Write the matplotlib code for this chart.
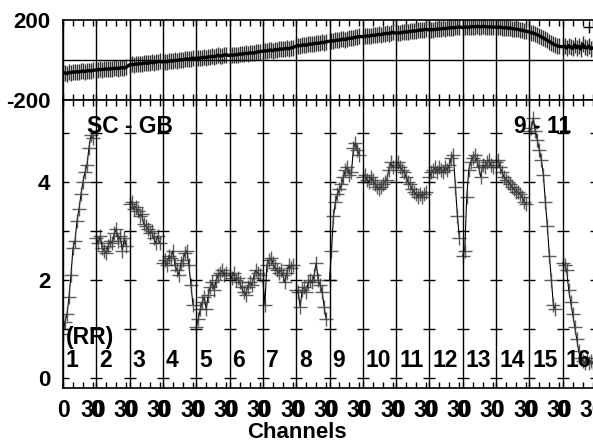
import numpy as np
import matplotlib
matplotlib.use("Agg")
import matplotlib.pyplot as plt

plt.rcParams['font.family'] = ['Liberation Sans', 'DejaVu Sans']
plt.rcParams['font.weight'] = 'bold'
plt.rcParams['axes.unicode_minus'] = False

# channels sampled every 2nd channel, 16 spectral windows
channels = [0, 2, 4, 6, 8, 10, 12, 14, 16, 18, 20, 22, 24, 26, 28, 30]
nan = np.nan

# amplitude per spectral window
amp_1 = [0.9, 1.15, 1.3, 1.65, 2.1, 2.65, 2.8, 3.2, 3.45, 3.75, 4.0, 4.2, 4.35, 4.7, 4.95, 4.9]
amp_2 = [2.85, 2.75, 2.9, 2.65, 2.6, 2.55, 2.7, 2.8, 2.75, 2.95, 3.05, 2.8, 2.9, 2.6, 2.85, 2.7]
amp_3 = [3.55, 3.6, 3.45, 3.5, 3.4, 3.3, 3.35, 3.15, 3.1, 3.05, 2.95, 3.0, 2.85, 2.75, 2.9, 2.75]
amp_4 = [2.35, 2.4, 2.3, 2.5, 2.45, 2.6, 2.3, 2.2, 2.1, 2.35, 2.4, 2.55, 2.6, 2.3, 1.9, 1.5]
amp_5 = [1.05, 1.2, 1.4, 1.55, 1.65, 1.4, 1.7, 1.85, 1.95, 1.8, 2.0, 2.1, 2.15, 2.2, 2.1, 2.15]
amp_6 = [2.1, 2.05, 2.15, 2.0, 2.05, 1.95, 1.85, 1.75, 1.7, 1.85, 1.95, 1.9, 2.05, 2.2, 2.15, 2.1]
amp_7 = [2.0, 1.5, 2.3, 2.4, 2.45, 2.35, 2.25, 2.2, 2.15, 2.2, 2.1, 1.95, 2.15, 2.3, 2.25, 2.3]
amp_8 = [1.8, 1.75, 1.45, 1.8, 1.85, 1.75, 1.95, 2.0, 1.95, 2.1, 2.35, 2.0, 1.9, 1.75, 1.45, 1.2]
amp_9 = [2.0, 2.6, 3.3, 3.6, 3.75, 3.85, 3.95, 4.1, 4.25, 4.3, 4.15, 4.2, 4.7, 4.8, 4.65, 4.55]
amp_10 = [4.1, 4.15, 4.05, 4.0, 4.1, 4.05, 3.95, 3.9, 3.85, 3.9, 3.95, 4.0, 4.05, 4.25, 4.4, 4.3]
amp_11 = [4.35, 4.4, 4.3, 4.25, 4.2, 4.1, 4.0, 3.95, 3.85, 3.8, 3.75, 3.7, 3.75, 3.7, 3.75, 3.8]
amp_12 = [4.1, 4.2, 4.25, 4.3, 4.2, 4.3, 4.25, 4.2, 4.3, 4.25, 4.35, 4.5, 4.55, 3.9, 3.3, 2.85]
amp_13 = [2.5, 2.6, 3.7, 4.25, 4.4, 4.5, 4.55, 4.45, 4.3, 4.1, 4.35, 4.3, 4.4, 4.45, 4.35, 4.3]
amp_14 = [4.4, 4.45, 4.3, 4.2, 4.1, 4.05, 4.0, 3.95, 3.9, 3.85, 3.8, 3.8, 3.75, 3.7, 3.6, 3.55]
amp_15 = [5.05, 5.1, 5.3, 5.05, 4.85, 4.65, 4.45, 4.15, 3.6, 3.1, 2.5, 2.0, 1.5, 1.4, nan, nan]
amp_16 = [2.35, 2.3, 2.2, 1.8, 1.55, 1.3, 1.05, 0.8, 0.55, 0.4, 0.35, 0.3, 0.4, 0.3, 0.35, 0.3]

# phase (deg) per spectral window
ph_1 = [-66, -64, -68, -62, -63, -60, -61, -58, -60, -57, -55, -58, -54, -53, -55, -51]
ph_2 = [-50, -49, -47, -48, -46, -45, -46, -43, -44, -42, -41, -43, -39, -38, -40, -36]
ph_3 = [-24, -22, -23, -20, -21, -18, -19, -16, -15, -17, -13, -12, -14, -10, -9, -7]
ph_4 = [-10, -8, -9, -6, -4, -5, -2, -3, 0, 2, 1, 4, 5, 3, 7, 9]
ph_5 = [8, 10, 9, 12, 14, 11, 16, 15, 18, 17, 20, 24, 19, 22, 25, 26]
ph_6 = [22, 25, 24, 27, 26, 30, 29, 31, 33, 32, 35, 36, 34, 38, 40, 42]
ph_7 = [44, 46, 45, 48, 50, 47, 52, 51, 53, 55, 54, 57, 58, 56, 60, 62]
ph_8 = [70, 72, 71, 74, 76, 73, 78, 80, 79, 82, 84, 83, 86, 88, 87, 91]
ph_9 = [94, 96, 95, 98, 100, 99, 103, 104, 102, 107, 109, 108, 112, 113, 115, 118]
ph_10 = [116, 118, 120, 119, 122, 124, 123, 126, 128, 127, 130, 131, 133, 132, 136, 138]
ph_11 = [134, 136, 135, 138, 139, 141, 140, 143, 144, 146, 145, 148, 150, 149, 152, 154]
ph_12 = [150, 152, 151, 153, 155, 154, 156, 158, 157, 159, 160, 162, 161, 163, 164, 165]
ph_13 = [162, 164, 165, 163, 166, 167, 166, 168, 167, 166, 168, 167, 166, 165, 166, 164]
ph_14 = [164, 163, 165, 162, 161, 162, 159, 160, 157, 156, 154, 153, 150, 149, 146, 144]
ph_15 = [140, 137, 134, 130, 126, 121, 115, 110, 104, 98, 92, 86, 80, 75, 71, 68]
ph_16 = [66, 70, 60, 72, 64, 58, 75, 62, 68, 55, 78, 63, 60, 70, 57, 60]
ph_outlier_chan = [26]
ph_outlier_val = [167]

amps = [amp_1, amp_2, amp_3, amp_4, amp_5, amp_6, amp_7, amp_8,
        amp_9, amp_10, amp_11, amp_12, amp_13, amp_14, amp_15, amp_16]
phases = [ph_1, ph_2, ph_3, ph_4, ph_5, ph_6, ph_7, ph_8,
          ph_9, ph_10, ph_11, ph_12, ph_13, ph_14, ph_15, ph_16]

n_spw = 16
width = 100.0 / 3  # channel units per window incl. gap

fig = plt.figure(figsize=(5.93, 4.42), dpi=100)
# axes run a little past the right edge of the figure, as in the original
ax1 = fig.add_axes([63 / 593, 342 / 442, 533 / 593, 80 / 442])
ax2 = fig.add_axes([63 / 593, 54 / 442, 533 / 593, 288 / 442])

starts = [k * width for k in range(n_spw)]
chan = np.array(channels)

# phase panel
all_x, all_y = [], []
for k in range(n_spw):
    all_x.extend(starts[k] + chan)
    all_y.extend(phases[k])
ax1.plot(all_x, all_y, '|', color='0.2', ms=12, mew=1.0)
ax1.plot(all_x, all_y, '-', color='k', lw=2.4)
ax1.plot(starts[15] + np.array(ph_outlier_chan), ph_outlier_val, '+', color='k', ms=9, mew=1)
ax1.axhline(0, color='k', lw=1)
ax1.set_ylim(-200, 200)
ax1.set_yticks([-200, 200])
ax1.set_yticklabels(['-200', '200'])

# amplitude panel
for k in range(n_spw):
    xs = starts[k] + chan
    ax2.plot(xs, amps[k], '-', color='k', lw=0.8)
    ax2.plot(xs, amps[k], '+', color='0.25', ms=10, mew=1.0, alpha=0.85)
ax2.set_ylim(-10 / 49, 278 / 49)
ax2.set_yticks([0, 2, 4])
ax2.set_yticklabels(['0', '2', '4'])

# grid crosses at each window boundary
bounds = [k * width for k in range(n_spw + 1)]
for b in bounds:
    ax2.plot([b] * 6, [0, 1, 2, 3, 4, 5], '_', color='k', ms=8, mew=1.0)

major_pos, major_lab, minor_pos = [], [], []
for s in starts:
    major_pos += [s, s + 30]
    major_lab += ['0', '30']
    minor_pos += [s + 10, s + 20]

for ax in (ax1, ax2):
    for b in bounds:
        ax.axvline(b, color='k', lw=1.0)
    ax.set_xlim(0, n_spw * width)
    ax.set_xticks(major_pos)
    ax.set_xticks(minor_pos, minor=True)
    ax.tick_params(axis='x', which='both', direction='in', top=True, bottom=True,
                   length=4, width=1)
    ax.tick_params(axis='y', length=0, pad=9, labelsize=16)
    for sp in ax.spines.values():
        sp.set_linewidth(1.2)

ax1.set_xticklabels([])
ax2.set_xticklabels(major_lab, fontsize=16.5, fontweight='bold')
ax2.tick_params(axis='x', pad=8)

# annotations
ax2.text(24, 5.0, 'SC - GB', fontsize=16.5, fontweight='bold', va='baseline')
ax2.text(451, 5.0, '9 - 11', fontsize=16.5, fontweight='bold', va='baseline')
ax2.text(2.5, 0.7, '(RR)', fontsize=16.5, fontweight='bold', va='baseline')
for k in range(n_spw):
    ax2.text(starts[k] + 3, 0.22, str(k + 1), fontsize=16.5, fontweight='bold', va='baseline')

fig.text(0.5, 0.01, 'Channels', ha='center', va='baseline', fontsize=16, fontweight='bold')

fig.savefig('out.png', dpi=100)
